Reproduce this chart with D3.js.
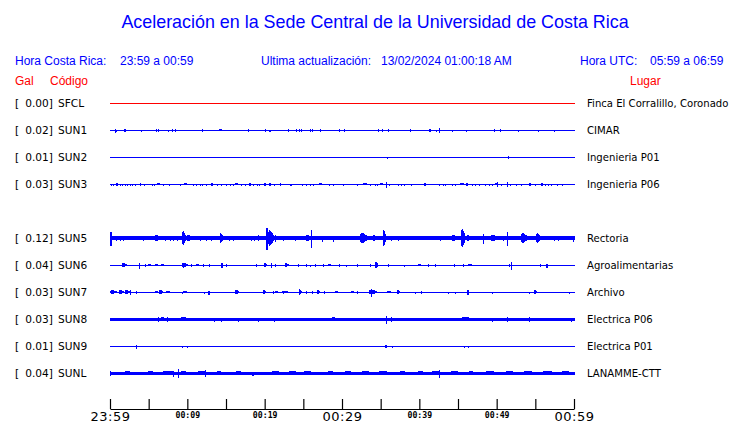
<!DOCTYPE html>
<html><head><meta charset="utf-8">
<script src="https://cdn.jsdelivr.net/npm/d3@7/dist/d3.min.js"></script>
<style>
html,body{margin:0;padding:0;background:#fff;}
svg{display:block;}
</style></head>
<body>
<svg id="chart" width="740" height="423"></svg>
<script>
// ---------- data ----------
const channelSlots = ["SFCL","SUN1","SUN2","SUN3","SUN4","SUN5","SUN6","SUN7","SUN8","SUN9","SUNL"];
const stations = ["SFCL","SUN1","SUN2","SUN3","SUN5","SUN6","SUN7","SUN8","SUN9","SUNL"];
const peakGal = ["0.00","0.02","0.01","0.03","0.12","0.04","0.03","0.03","0.01","0.04"];
const places = ["Finca El Corralillo, Coronado","CIMAR","Ingenieria P01","Ingenieria P06","Rectoria",
  "Agroalimentarias","Archivo","Electrica P06","Electrica P01","LANAMME-CTT"];
// background noise level per station (relative amplitude)
const noiseLevel = [0, 0.5, 0.5, 0.5, 1.7, 0.5, 0.5, 1.5, 0.5, 1.5];
// minute ticks (minutes after 23:59) and labels
const tickMinutes = [0,5,10,15,20,25,30,35,40,45,50,55,60];
const tickLabels = ["23:59","","00:09","","00:19","","00:29","","00:39","","00:49","","00:59"];
// events: [minute, duration (min), amplitude]
const evSFCL = [];
const evSUN1 = [[0.65,0.05,2],[0.86,0.05,1],[1.94,0.25,1.5],[4.09,0.05,0.7],[6.03,0.05,1.2],[6.25,0.05,1.2],
  [7.54,0.05,0.8],[8.1,0.05,1.2],[8.45,0.05,1.2],[11.9,0.05,1.2],[14.3,0.45,1.5],[17.9,0.05,1.2],[20.1,0.05,1.2],
  [20.65,0.3,0.8],[23.06,0.05,1.2],[24.1,0.05,1.2],[24.4,0.05,1.2],[24.7,0.05,1.5],[25.9,0.05,1.2],[26.2,0.05,1.2],
  [27.2,0.05,1.2],[29.7,0.2,1.3],[30.3,0.05,1.2],[34.7,0.2,1.3],[35.2,0.05,1.2],[36.0,0.05,1.2],[38.8,0.05,1.2],
  [41.4,0.25,1.3],[42.2,0.05,1.0],[42.6,0.05,2.5],[44.3,0.05,0.8],[46.1,0.05,0.8],[49.7,0.05,1.2],[50.5,0.05,1.2],
  [52.8,0.05,0.7],[55.4,0.05,1],[57.5,0.05,0.6]];
const evSUN2 = [[35.8,0.05,1],[51.5,0.05,1.3]];
const evSUN3 = [[0.13,0.05,1],[0.43,0.05,0.7],[0.9,0.15,1.5],[1.3,0.05,1],[1.6,0.05,1],[1.94,0.05,1],[2.16,0.05,1],
  [2.6,0.05,1],[2.9,0.05,1],[3.3,0.2,1],[3.9,0.15,1.5],[4.4,0.05,1],[5.4,0.05,1],[5.7,0.05,1],[6.3,0.35,1.5],
  [6.9,0.05,0.7],[7.7,0.05,1],[9.05,0.05,1],[9.8,0.4,1.5],[10.8,0.05,1],[11.1,0.05,1],[11.6,0.05,1],[11.9,0.05,1],
  [12.4,0.05,1],[13.2,0.2,1.5],[13.9,0.05,1],[14.4,0.05,1],[15.0,0.05,1],[15.5,0.05,1],[15.9,0.05,1],[16.4,0.35,1.3],
  [16.9,0.05,1],[17.5,0.05,1],[18.1,0.35,1.5],[18.5,0.05,1],[19.0,0.05,1],[19.3,0.05,1],[20.0,0.25,1.5],[20.7,0.25,1.5],
  [21.2,0.05,1],[22.0,0.05,1.2],[23.4,0.2,1],[24.9,0.05,0.7],[25.4,0.05,1],[25.9,0.05,1],[26.3,0.05,1],[27.2,0.35,1.5],
  [28.3,0.05,1],[28.9,0.05,0.7],[30.2,0.05,0.8],[32.0,0.05,0.8],[33.0,0.5,1.5],[33.7,0.05,1],[34.3,0.05,1],[34.6,0.05,1],
  [35.1,0.4,1.5],[35.7,0.1,3],[36.1,0.05,1],[37.3,0.05,1],[37.6,0.05,1],[38.1,0.05,0.7],[39.0,0.05,1],[40.7,0.3,1.5],
  [42.6,0.05,0.8],[43.1,0.05,1],[43.4,0.2,1],[44.2,0.05,1],[44.7,0.05,1],[45.5,0.5,1.5],[46.2,0.3,1.5],[46.8,0.05,1],
  [47.2,0.05,1],[47.8,0.05,1],[48.5,0.05,1],[49.0,0.05,1],[49.4,0.05,1],[49.96,0.3,1.5],[50.05,0.05,2.5],[50.6,0.05,1],
  [51.4,0.1,2.5],[51.7,0.05,1],[52.5,0.05,1],[53.2,0.05,1],[54.3,0.3,1.3],[55.0,0.05,1],[55.9,0.25,1.3],[56.3,0.05,1],
  [56.7,0.05,1],[57.1,0.05,1],[57.8,0.05,0.8],[58.5,0.05,0.7]];
const evSUN5 = [[0.1,0.2,7],[0.86,0.05,2.5],[1.3,0.05,2.5],[1.7,0.05,2],[4.3,0.05,2.5],[6.1,0.6,3.5],[7.1,0.05,2.5],
  [7.8,0.05,2.5],[8.2,0.05,2],[8.7,0.05,2.5],[9.6,0.5,7.5],[10.2,0.5,3.5],[11.6,0.05,2],[12.5,0.05,2.5],[13.1,0.05,2],
  [14.4,0.3,5.5],[15.4,0.05,2],[15.9,0.05,2.5],[18.2,0.05,2],[18.6,0.05,2],[19.3,0.5,3],[20.3,0.15,11],[20.8,0.8,8],
  [21.4,0.05,3.5],[22.4,0.05,2.5],[23.9,0.05,2],[25.6,0.4,3.5],[26.1,0.1,9],[27.5,0.05,3],[28.9,0.05,3],[32.8,1.0,5.5],
  [34.2,0.5,3],[35.5,0.5,9],[36.3,0.05,2.5],[37.3,0.05,2],[42.7,0.05,2],[44.5,0.6,3.5],[45.6,0.5,10.5],[46.3,0.4,4],
  [48.3,0.05,5],[49.7,0.8,3.5],[50.9,0.05,2.5],[51.4,0.05,7],[53.6,1.0,5],[55.4,0.6,5],[57.5,0.05,2],[58.0,0.05,2],
  [59.9,0.1,3]];
const evSUN6 = [[1.9,0.7,2],[3.75,0.1,3],[4.5,0.05,1.5],[5.1,0.5,1.5],[6.0,0.3,1.5],[6.8,0.4,1.5],[9.7,0.9,2.5],
  [10.5,0.05,1.5],[11.3,0.3,1.5],[12.1,0.05,1.5],[12.8,0.05,1.5],[14.5,0.3,2.5],[15.0,0.05,1.5],[18.9,0.05,1.5],
  [20.1,0.5,2.5],[20.8,0.05,2.5],[21.4,0.05,1.5],[22.9,0.6,2],[24.3,0.05,1.5],[25.4,0.05,1.5],[25.9,0.05,1],
  [26.5,0.05,1.5],[27.6,0.05,1.5],[28.4,0.3,1.5],[29.6,0.05,1.5],[30.5,0.05,1],[32.0,0.2,1.5],[33.6,0.05,1.5],
  [34.5,0.4,3.5],[36.0,0.1,1.5],[38.0,0.05,1],[40.0,0.35,1.5],[41.1,0.05,1.5],[42.1,0.05,1.5],[44.5,0.05,1.5],
  [45.7,0.05,1.5],[46.6,0.5,1.5],[51.6,0.05,1.5],[51.9,0.05,4],[55.6,0.05,1.5],[56.5,0.3,2]];
const evSUN7 = [[0.5,0.9,2],[1.5,0.7,2],[2.3,0.6,2],[2.6,0.05,2.5],[3.4,0.05,1.5],[6.0,0.3,1.2],[6.6,0.6,2.5],
  [7.5,0.6,1.5],[9.3,0.05,1],[9.7,0.4,1.5],[12.2,0.05,1],[12.8,0.35,2],[16.4,0.5,2.5],[20.0,0.35,2.5],[21.1,0.05,1.2],
  [21.5,0.4,1.5],[22.6,0.8,1.5],[24.6,0.4,3],[25.4,0.05,1.2],[26.1,0.05,1.2],[27.0,0.4,2],[27.7,0.05,1.2],[29.3,0.4,1.5],
  [31.3,0.4,1.5],[31.9,0.05,1.2],[34.0,1.0,2.5],[33.8,0.05,4],[36.1,0.5,1.5],[37.3,0.4,2.5],[39.5,0.05,0.8],
  [40.3,0.2,1.5],[43.7,0.05,0.8],[44.7,0.05,1],[46.3,0.2,2.5],[49.4,0.05,0.8],[54.2,0.05,1],[55.0,0.4,2.5],[59.4,0.05,1]];
const evSUN8 = [[6.25,0.05,2.5],[6.8,0.3,2.5],[7.45,0.05,2.5],[9.5,0.6,2.5],[13.5,0.05,2],[14.35,0.05,2],[16.6,0.05,2],
  [19.2,0.05,2],[21.25,0.05,2],[28.9,0.5,2.5],[35.7,0.1,4],[36.4,0.05,2.5],[46.0,0.9,2.5],[49.4,0.05,2],[51.4,0.05,2.5],
  [54.2,0.05,2.5],[59.6,0.05,2]];
const evSUN9 = [[3.4,0.05,2],[9.35,0.05,1],[10.0,0.05,1],[35.7,0.2,1.5],[36.5,0.05,1],[45.8,0.05,1],[46.3,0.05,1]];
const evSUNL = [[0.05,0.1,2.5],[2.3,0.6,2],[5.2,0.6,2],[7.5,1.2,2.5],[8.2,0.05,3],[8.8,0.05,4.5],[9.5,0.6,2.5],
  [11.9,1.0,2.5],[12.3,0.05,3.5],[14.1,0.6,2],[16.6,0.6,2],[18.5,0.2,2],[21.3,1.0,2],[23.5,1.0,2],[25.5,1.0,2],
  [28.5,0.8,2],[30.7,1.0,2],[33.0,1.0,2],[35.3,1.0,2.5],[37.8,0.8,2],[40.1,0.8,2],[42.2,1.0,2.5],[42.6,0.05,4],
  [44.5,1.0,2],[46.7,0.6,2],[49.1,1.2,2],[51.6,1.0,2],[54.0,1.1,2],[56.5,1.2,2],[58.8,1.0,2]];
const stationEvents = [evSFCL, evSUN1, evSUN2, evSUN3, evSUN5, evSUN6, evSUN7, evSUN8, evSUN9, evSUNL];

// ---------- drawing ----------
const svg = d3.select("#chart");
const BLUE = "#0000ff", RED = "#ff0000";
const SANS = "'Liberation Sans', Arial, sans-serif";
const DJ = "'DejaVu Sans', sans-serif";

const x = d3.scaleLinear().domain([0, 60]).range([110, 574]);
const y = d3.scalePoint().domain(channelSlots).range([103, 373]);
const amp = d3.scaleLinear().domain([0, 13]).range([0, 13]);

// title
svg.append("text").attr("x", 375).attr("y", 28).attr("text-anchor", "middle")
  .attr("font-family", SANS).attr("font-size", 17.9).attr("fill", BLUE)
  .text("Aceleración en la Sede Central de la Universidad de Costa Rica");

const hdr = (tx, ty, t, col, anchor) => svg.append("text").attr("x", tx).attr("y", ty)
  .attr("font-family", SANS).attr("font-size", 12).attr("fill", col).attr("text-anchor", anchor || "start")
  .attr("xml:space", "preserve").text(t);
hdr(15, 65, "Hora Costa Rica:", BLUE);
hdr(120, 65, "23:59 a 00:59", BLUE);
hdr(261, 65, "Ultima actualización:", BLUE);
hdr(381, 65, "13/02/2024 01:00:18 AM", BLUE);
hdr(580, 65, "Hora UTC:", BLUE);
hdr(650, 65, "05:59 a 06:59", BLUE);
hdr(15, 85, "Gal", RED);
hdr(50, 85, "Código", RED);
hdr(630, 85, "Lugar", RED);

const rows = stations.map((code, i) => ({code, peak: peakGal[i], place: places[i], noise: noiseLevel[i], events: stationEvents[i]}));

const g = svg.selectAll("g.row").data(rows).enter().append("g").attr("class", "row");

// left labels
const LFS = 10.6;
g.append("text").attr("x", 15).attr("y", d => y(d.code) + 4)
  .attr("font-family", DJ).attr("font-size", LFS).attr("fill", "#000").text("[");
g.append("text").attr("x", 53).attr("y", d => y(d.code) + 4).attr("text-anchor", "end")
  .attr("font-family", DJ).attr("font-size", LFS).attr("fill", "#000").text(d => d.peak + "]");
g.append("text").attr("x", 58).attr("y", d => y(d.code) + 4)
  .attr("font-family", DJ).attr("font-size", LFS).attr("fill", "#000").text(d => d.code);
// right labels
g.append("text").attr("x", 587).attr("y", d => y(d.code) + 4)
  .attr("font-family", DJ).attr("font-size", 10.1).attr("fill", "#000").text(d => d.place);

const colorOf = d => (+d.peak === 0 ? RED : BLUE);

// baseline (noise band)
g.append("rect")
  .attr("shape-rendering", "crispEdges")
  .attr("x", x(0)).attr("width", x(60) - x(0) + 1)
  .attr("y", d => d.noise < 1 ? y(d.code) : y(d.code) - amp(d.noise))
  .attr("height", d => Math.max(1, 2 * amp(d.noise)))
  .attr("fill", colorOf);

// events
g.each(function(d) {
  const c = y(d.code);
  const col = colorOf(d);
  d3.select(this).selectAll("path.ev").data(d.events).enter().append("path")
    .attr("class", "ev")
    .attr("shape-rendering", "crispEdges")
    .attr("fill", col)
    .attr("d", e => {
      const x0 = Math.round(x(e[0] - e[1] / 2)), x1 = Math.round(x(e[0] + e[1] / 2));
      const w = Math.max(1, x1 - x0);
      const a = Math.max(amp(e[2]), amp(d.noise) + 0.5);
      if (w < 3) {
        return `M${x0},${c - a + 0.5}h${w}v${2 * a}h${-w}Z`;
      }
      const xp = x0 + w * 0.25;
      const ae = Math.max(amp(d.noise), a * 0.35);
      return `M${x0},${c - a * 0.6}L${xp},${c - a}L${x0 + w},${c - ae}L${x0 + w},${c + ae}L${xp},${c + a}L${x0},${c + a * 0.6}Z`;
    });
});

// time axis
const axis = d3.axisBottom(x).tickValues(tickMinutes).tickSizeInner(-10).tickSizeOuter(0)
  .tickFormat((m, i) => tickLabels[i]);
const ax = svg.append("g").attr("transform", "translate(0,409)").call(axis);
ax.select(".domain").attr("stroke", "#000").attr("stroke-width", 1.2);
ax.selectAll(".tick line").attr("stroke", "#000").attr("stroke-width", 1.2);
ax.selectAll(".tick text").each(function(m, i) {
  const big = (m % 30 === 0);
  d3.select(this)
    .attr("y", big ? 12 : 8.5).attr("dy", 0)
    .attr("font-family", big ? DJ : "'DejaVu Sans Mono', monospace")
    .attr("font-size", big ? 13 : 8.2)
    .attr("font-weight", big ? "normal" : "bold")
    .attr("letter-spacing", big ? 0.5 : 0)
    .attr("fill", "#000");
});
</script>
</body></html>
